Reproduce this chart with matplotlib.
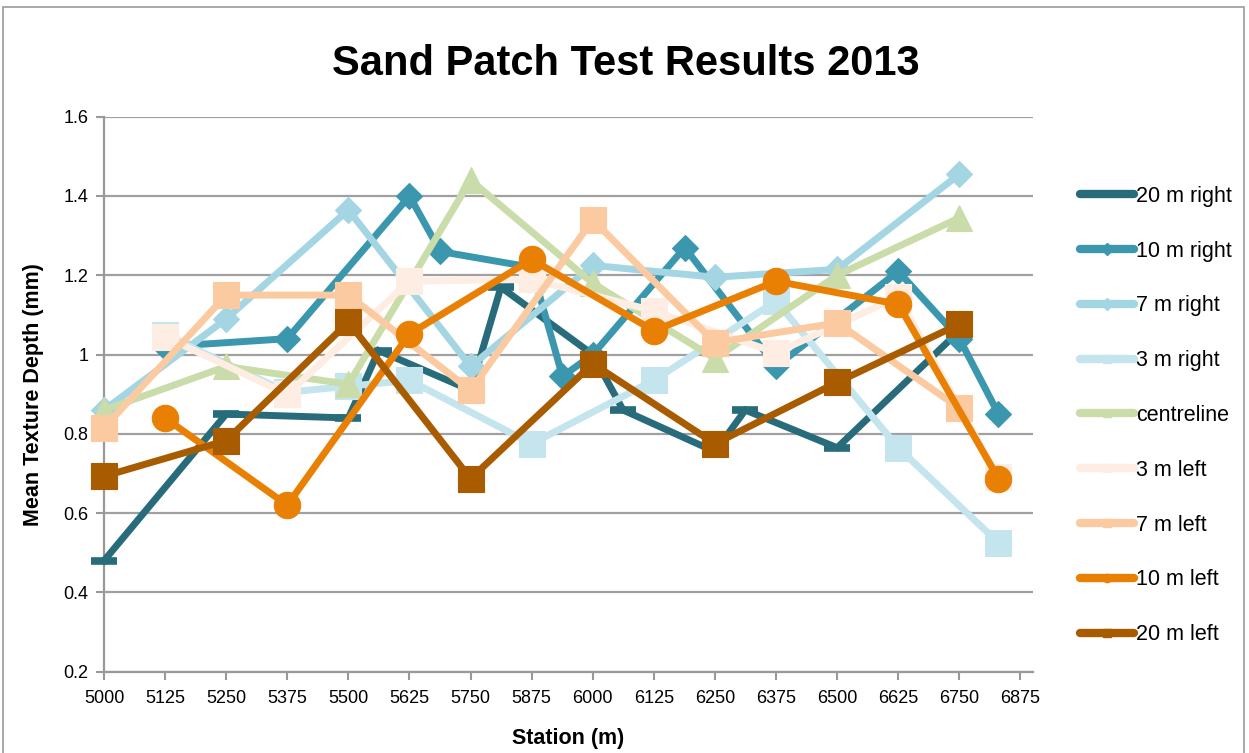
import matplotlib
matplotlib.use("Agg")
import matplotlib.pyplot as plt
from matplotlib.lines import Line2D
from matplotlib.patches import Rectangle

plt.rcParams['font.family'] = ['Liberation Sans', 'DejaVu Sans']

# ---- data ----
x_20r = [5000, 5250, 5500, 5562, 5750, 5812, 6000, 6062, 6250, 6312, 6500, 6750]
y_20r = [0.48, 0.85, 0.84, 1.01, 0.91, 1.17, 1.00, 0.86, 0.755, 0.86, 0.765, 1.06]

x_10r = [5125, 5375, 5625, 5688, 5875, 5938, 6000, 6188, 6375, 6625, 6750, 6830]
y_10r = [1.02, 1.04, 1.40, 1.26, 1.22, 0.945, 1.00, 1.27, 0.97, 1.21, 1.04, 0.85]

x_7r = [5000, 5250, 5500, 5750, 6000, 6250, 6500, 6750]
y_7r = [0.86, 1.09, 1.365, 0.97, 1.225, 1.195, 1.215, 1.455]

x_3r = [5125, 5375, 5500, 5625, 5875, 6125, 6375, 6625, 6830]
y_3r = [1.05, 0.905, 0.92, 0.935, 0.775, 0.935, 1.135, 0.765, 0.525]

x_cl = [5000, 5250, 5500, 5750, 6000, 6250, 6500, 6750]
y_cl = [0.86, 0.97, 0.925, 1.44, 1.18, 0.99, 1.20, 1.345]

x_3l = [5125, 5375, 5625, 5875, 6125, 6375, 6625, 6830]
y_3l = [1.045, 0.90, 1.185, 1.19, 1.11, 1.005, 1.145, 0.69]

x_7l = [5000, 5250, 5500, 5750, 6000, 6250, 6500, 6750]
y_7l = [0.815, 1.15, 1.15, 0.91, 1.34, 1.03, 1.08, 0.865]

x_10l = [5125, 5375, 5625, 5875, 6125, 6375, 6625, 6830]
y_10l = [0.84, 0.62, 1.052, 1.24, 1.06, 1.185, 1.127, 0.687]

x_20l = [5000, 5250, 5500, 5750, 6000, 6250, 6500, 6750]
y_20l = [0.693, 0.783, 1.082, 0.687, 0.977, 0.775, 0.93, 1.077]

series_names = ["20 m right", "10 m right", "7 m right", "3 m right", "centreline",
                "3 m left", "7 m left", "10 m left", "20 m left"]

x_ticks = [5000, 5125, 5250, 5375, 5500, 5625, 5750, 5875, 6000,
           6125, 6250, 6375, 6500, 6625, 6750, 6875]
y_ticks = [0.2, 0.4, 0.6, 0.8, 1.0, 1.2, 1.4, 1.6]
y_tick_labels = ["0.2", "0.4", "0.6", "0.8", "1", "1.2", "1.4", "1.6"]

# ---- styles ----
styles = [
    dict(color="#286C7C", marker="_", ms=19, mew=5.5),
    dict(color="#3B97AE", marker="D", ms=13.5, mew=0.8),
    dict(color="#A3D5E3", marker="D", ms=13.5, mew=0.8),
    dict(color="#C4E4EE", marker="s", ms=18.5, mew=0.8),
    dict(color="#CADCA9", marker="^", ms=19, mew=0.8),
    dict(color="#FDEDE2", marker="s", ms=18.5, mew=0.8),
    dict(color="#FBCAA0", marker="s", ms=18.5, mew=0.8),
    dict(color="#E98004", marker="o", ms=19, mew=0.8),
    dict(color="#A95B00", marker="s", ms=18.5, mew=0.8),
]
data = [(x_20r, y_20r), (x_10r, y_10r), (x_7r, y_7r), (x_3r, y_3r), (x_cl, y_cl),
        (x_3l, y_3l), (x_7l, y_7l), (x_10l, y_10l), (x_20l, y_20l)]

fig = plt.figure(figsize=(12.49, 7.53), dpi=100)
ax = fig.add_axes([104 / 1249, 1 - 671.7 / 753, (1032.7 - 104) / 1249, (671.7 - 116.7) / 753])

for i, ((xs, ys), st, name) in enumerate(zip(data, styles, series_names)):
    ax.plot(xs, ys, color=st["color"], lw=5, marker=st["marker"], ms=st["ms"],
            mfc=st["color"], mec=st["color"], mew=st["mew"],
            solid_joinstyle="miter", zorder=3 + i, label=name, clip_on=False)

ax.set_xlim(5000, 6900)
ax.set_ylim(0.2, 1.6)
ax.set_xticks(x_ticks)
ax.set_xticklabels([str(t) for t in x_ticks])
ax.set_yticks(y_ticks)
ax.set_yticklabels(y_tick_labels)
ax.tick_params(axis="both", direction="out", length=6, width=1.5, color="#999999",
               labelsize=13)
ax.tick_params(axis="x", pad=7.5)
ax.tick_params(axis="y", pad=5)
ax.grid(axis="y", color="#A0A0A0", lw=1.6, zorder=1)
ax.set_axisbelow(True)
for s in ["top", "right"]:
    ax.spines[s].set_visible(False)
for s in ["left", "bottom"]:
    ax.spines[s].set_color("#999999")
    ax.spines[s].set_linewidth(1.6)

ax.set_xlabel("Station (m)", fontsize=15.5, fontweight="bold", labelpad=15)
ax.set_ylabel("Mean Texture Depth (mm)", fontsize=15.5, fontweight="bold", labelpad=14)

fig.text(0.501, 1 - 64 / 753, "Sand Patch Test Results 2013", ha="center", va="center",
         fontsize=30, fontweight="bold")

handles = [Line2D([0], [0], color=st["color"], lw=6, marker=st["marker"],
                  ms=(6 if st["marker"] != "_" else 8), mfc=st["color"], mec=st["color"],
                  mew=(1 if st["marker"] != "_" else 3), solid_capstyle="round")
           for st in styles]
leg = fig.legend(handles, series_names, loc="center left",
                 bbox_to_anchor=(1061 / 1249, 1 - 415.5 / 753), frameon=False,
                 fontsize=15.5, handlelength=2.5, handletextpad=0.1, labelspacing=1.57,
                 borderpad=0.4)

# outer chart border
fig.patches.append(Rectangle((3 / 1249, -0.05), (1244 - 3) / 1249, 1.05 - 7 / 753,
                             transform=fig.transFigure, fill=False, ec="#9A9A9A", lw=1.2))

fig.savefig("out.png", dpi=100)
